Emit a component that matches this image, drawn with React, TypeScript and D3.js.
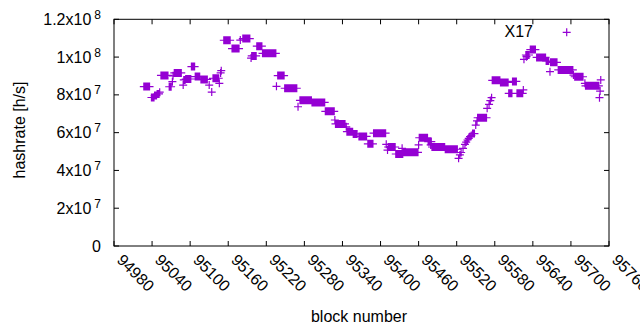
import React from 'react';
import * as d3 from 'd3';

// runs of blocks that share the same estimated hashrate: [firstBlock, lastBlock, hashrate in 1e6 h/s]
const runs: [number, number, number][] = [
    [95027, 95036, 84.4], [95039, 95043, 78.6], [95044, 95047, 79.6], [95048, 95051, 80.5],
    [95052, 95052, 81.4], [95054, 95065, 90.3], [95067, 95070, 84.3], [95072, 95072, 87.0],
    [95073, 95073, 90.1], [95075, 95086, 91.6], [95089, 95089, 85.2], [95090, 95092, 87.9],
    [95093, 95101, 88.4], [95102, 95107, 95.0], [95108, 95115, 89.7], [95117, 95127, 88.2],
    [95130, 95130, 85.2], [95134, 95134, 81.5], [95136, 95145, 88.8], [95146, 95146, 86.1],
    [95148, 95148, 91.6], [95149, 95149, 92.8], [95153, 95163, 108.9], [95166, 95177, 104.5],
    [95179, 95179, 109.0], [95183, 95194, 109.8], [95196, 95196, 99.5], [95197, 95204, 100.6],
    [95205, 95213, 105.8], [95214, 95235, 102.0], [95236, 95236, 84.5], [95238, 95248, 90.2],
    [95249, 95268, 83.5], [95270, 95270, 73.7], [95273, 95291, 77.1], [95292, 95312, 76.0],
    [95313, 95327, 71.3], [95328, 95328, 66.7], [95329, 95344, 64.6], [95346, 95346, 63.1],
    [95347, 95356, 60.5], [95357, 95363, 59.3], [95366, 95378, 58.0], [95380, 95388, 54.1],
    [95389, 95408, 59.7], [95409, 95409, 53.8], [95411, 95411, 50.8], [95412, 95423, 52.4],
    [95424, 95435, 48.7], [95434, 95434, 51.7], [95436, 95459, 49.6], [95460, 95460, 53.5],
    [95461, 95474, 57.3], [95475, 95480, 55.2], [95479, 95479, 53.5], [95481, 95501, 52.4],
    [95502, 95521, 51.2], [95523, 95523, 46.4], [95525, 95525, 48.2], [95527, 95527, 49.5],
    [95530, 95530, 51.7], [95533, 95533, 53.8], [95535, 95535, 55.0], [95537, 95537, 56.1],
    [95539, 95539, 57.0], [95541, 95541, 57.9], [95543, 95543, 58.5], [95545, 95548, 59.5],
    [95550, 95550, 64.0], [95552, 95552, 66.2], [95553, 95567, 67.9], [95568, 95568, 72.9],
    [95571, 95571, 75.0], [95573, 95573, 77.0], [95575, 95575, 78.5], [95576, 95588, 87.7],
    [95589, 95601, 86.6], [95602, 95607, 80.8], [95608, 95614, 87.1], [95615, 95624, 80.8],
    [95625, 95625, 82.6], [95626, 95626, 98.8], [95629, 95634, 101.1], [95630, 95630, 100.2],
    [95636, 95644, 104.0], [95646, 95660, 99.8], [95661, 95665, 97.9], [95667, 95667, 92.3],
    [95668, 95678, 97.2], [95680, 95703, 93.2], [95704, 95704, 90.5], [95706, 95719, 89.6],
    [95722, 95722, 86.1], [95723, 95744, 84.8], [95745, 95745, 78.5], [95746, 95746, 82.0],
    [95747, 95747, 87.9],
];

const xTicks = [94980, 95040, 95100, 95160, 95220, 95280, 95340, 95400, 95460, 95520, 95580, 95640, 95700, 95760];
const yTicks = [0, 2e7, 4e7, 6e7, 8e7, 1e8, 1.2e8];
const seriesName = 'X17';

const color = '#9400D3';
const font = '"Liberation Sans", Arial, sans-serif';

const left = 114, right = 609, top = 19.3, bottom = 246;

const plus = (x: number, y: number) => `M${x - 4},${y}h8M${x},${y - 4}v8`;

function yLabel(v: number) {
    if (v === 0) return {mant: '0', exp: ''};
    const exp = Math.floor(Math.log10(v) + 1e-9);
    const mant = +(v / Math.pow(10, exp)).toFixed(1);
    return {mant: mant + 'x10', exp: String(exp)};
}

export default function App() {
    const x = d3.scaleLinear().domain([94980, 95760]).range([left, right]);
    const y = d3.scaleLinear().domain([0, 1.2e8]).range([bottom, top]);

    // one point per block
    const points: [number, number][] = [];
    runs.forEach(([b0, b1, v]) => {
        d3.range(b0, b1 + 1).forEach(b => points.push([b, v * 1e6]));
    });

    const d = points.map(p => plus(x(p[0]), y(p[1]))).join('');

    return (
        <div style={{position: 'fixed', left: 0, top: 0}}>
            <svg width={640} height={330} style={{display: 'block', background: 'white'}} fontFamily={font}>
                {/* y ticks + labels */}
                {yTicks.map(t => {
                    const ty = y(t);
                    const l = yLabel(t);
                    return (
                        <g key={t}>
                            <line x1={left} x2={left + 5} y1={ty} y2={ty} stroke="black"/>
                            <line x1={right} x2={right - 5} y1={ty} y2={ty} stroke="black"/>
                            <text x={101} y={ty + 5.5} textAnchor="end" fontSize={16} fill="#000">
                                {l.mant}
                                {l.exp && <tspan dx={3} dy={-6} fontSize={12}>{l.exp}</tspan>}
                            </text>
                        </g>
                    );
                })}
                {/* x ticks + rotated labels */}
                {xTicks.map(t => {
                    const tx = x(t);
                    return (
                        <g key={t}>
                            <line x1={tx} x2={tx} y1={bottom} y2={bottom - 5} stroke="black"/>
                            <line x1={tx} x2={tx} y1={top} y2={top + 5} stroke="black"/>
                            <text transform={`translate(${tx + 2},${bottom + 15}) rotate(45)`}
                                  fontSize={16} fill="#000">{t}</text>
                        </g>
                    );
                })}
                <rect x={left} y={top} width={right - left} height={bottom - top}
                      fill="none" stroke="black" strokeWidth={1}/>
                <path d={d} stroke={color} strokeWidth={1.2} fill="none"/>
                {/* key */}
                <text x={533} y={37.3} textAnchor="end" fontSize={16} fill="#000">{seriesName}</text>
                <path d={plus(566.7, 32.3)} stroke={color} strokeWidth={1.2} fill="none"/>
                <text transform={`translate(24.5,130) rotate(-90)`} textAnchor="middle" fontSize={16}
                      fill="#000">hashrate [h/s]</text>
                <text x={359} y={321.5} textAnchor="middle" fontSize={16} fill="#000">block number</text>
            </svg>
        </div>
    );
}
